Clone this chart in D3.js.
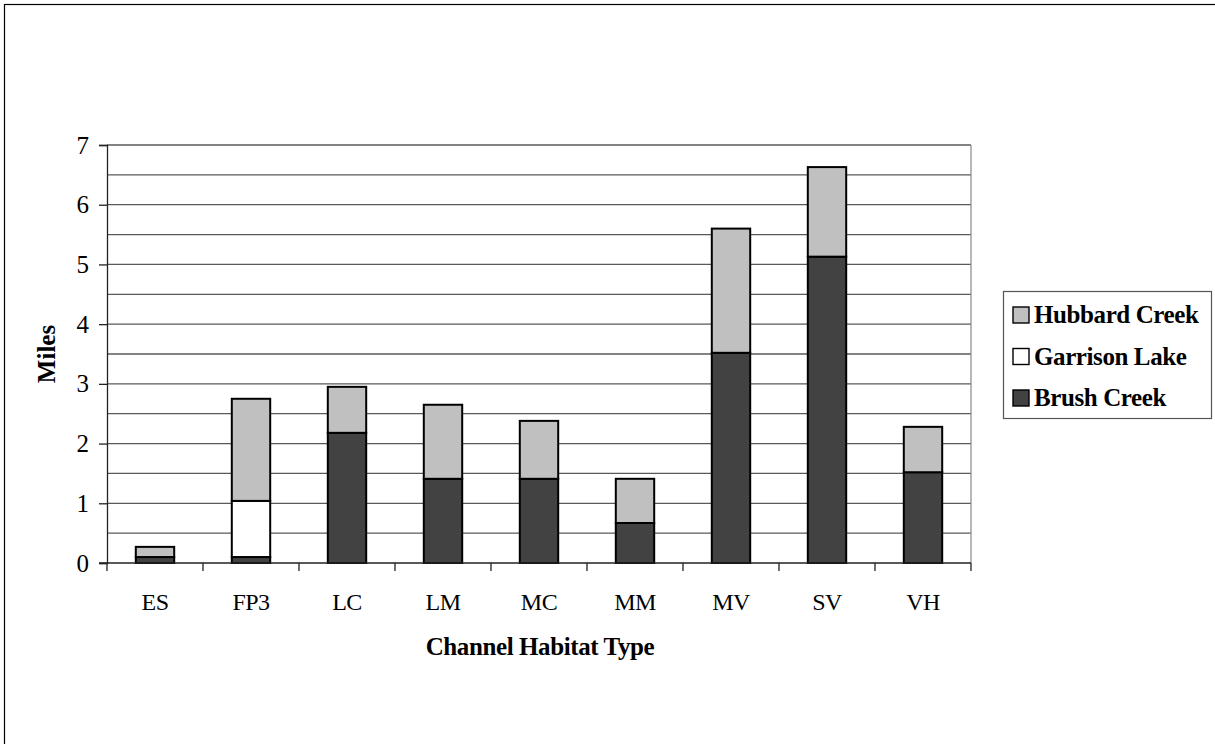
<!DOCTYPE html>
<html>
<head>
<meta charset="utf-8">
<script src="https://d3js.org/d3.v7.min.js"></script>
<style>
  body { margin: 0; background: #fff; }
  text { font-family: "Liberation Serif", "Times New Roman", serif; }
</style>
</head>
<body>
<script>
// categories and series (miles)
var habitats = ["ES", "FP3", "LC", "LM", "MC", "MM", "MV", "SV", "VH"];
var brushCreek = [0.1, 0.1, 2.18, 1.41, 1.41, 0.67, 3.52, 5.13, 1.52];
var garrisonLake = [0, 0.94, 0, 0, 0, 0, 0, 0, 0];
var hubbardCreek = [0.17, 1.71, 0.77, 1.24, 0.97, 0.74, 2.08, 1.5, 0.76];
var seriesNames = ["Brush Creek", "Garrison Lake", "Hubbard Creek"];
var yTicks = [0, 1, 2, 3, 4, 5, 6, 7];

var colors = {"Brush Creek": "#424242", "Garrison Lake": "#ffffff", "Hubbard Creek": "#c0c0c0"};

var W = 1215, H = 744;
var margin = {top: 145, left: 107, right: 244, bottom: 181};
var width = W - margin.left - margin.right,
    height = H - margin.top - margin.bottom;

var svg = d3.select("body").append("svg")
    .attr("width", W)
    .attr("height", H);

// outer frame (runs past right and bottom edges like the original)
svg.append("rect")
    .attr("x", 4.5).attr("y", 4.5)
    .attr("width", W + 10).attr("height", H + 10)
    .attr("fill", "none").attr("stroke", "#000").attr("stroke-width", 1.2);

var g = svg.append("g")
    .attr("transform", "translate(" + margin.left + "," + margin.top + ")");

var rows = habitats.map(function(h, i) {
    return {habitat: h, "Brush Creek": brushCreek[i], "Garrison Lake": garrisonLake[i], "Hubbard Creek": hubbardCreek[i]};
});
var stacked = d3.stack().keys(seriesNames)(rows);

var x = d3.scaleBand().domain(habitats).range([0, width]).paddingInner(0.6).paddingOuter(0.3);
var xTick = d3.scaleBand().domain(habitats).range([0, width]);
var y = d3.scaleLinear().domain([0, 7]).range([height, 0]);

// gridlines every half mile
g.append("g")
    .selectAll("line")
    .data(d3.range(0.5, 7.01, 0.5))
    .enter().append("line")
    .attr("x1", 0).attr("x2", width)
    .attr("y1", function(d) { return y(d); })
    .attr("y2", function(d) { return y(d); })
    .attr("stroke", "#5a5a5a").attr("stroke-width", 1.3);

// plot area right edge
g.append("line")
    .attr("x1", width).attr("x2", width).attr("y1", 0).attr("y2", height)
    .attr("stroke", "#888").attr("stroke-width", 1.2);

// bars
g.selectAll("g.series")
    .data(stacked)
    .enter().append("g")
    .attr("class", "series")
    .attr("fill", function(d) { return colors[d.key]; })
    .selectAll("rect")
    .data(function(d) { return d.filter(function(p) { return p[1] - p[0] > 0; }); })
    .enter().append("rect")
    .attr("x", function(d) { return x(d.data.habitat); })
    .attr("y", function(d) { return y(d[1]); })
    .attr("width", x.bandwidth())
    .attr("height", function(d) { return y(d[0]) - y(d[1]); })
    .attr("stroke", "#000").attr("stroke-width", 2);

// y axis
var yAxis = g.append("g")
    .call(d3.axisLeft(y).tickValues(yTicks).tickSize(8).tickPadding(10).tickFormat(d3.format("d")));
yAxis.select(".domain").attr("stroke", "#222").attr("stroke-width", 1.3);
yAxis.selectAll(".tick line").attr("stroke", "#222").attr("stroke-width", 1.3);
yAxis.selectAll("text")
    .attr("font-family", "Liberation Serif, serif")
    .attr("font-size", 25).attr("fill", "#000");

// x axis: ticks sit on the category boundaries
var xAxis = g.append("g")
    .attr("transform", "translate(0," + height + ")");
xAxis.append("line")
    .attr("x1", -8).attr("x2", width)
    .attr("stroke", "#222").attr("stroke-width", 1.3);
xAxis.selectAll("line.tk")
    .data(habitats.concat(["end"]))
    .enter().append("line")
    .attr("class", "tk")
    .attr("x1", function(d, i) { return i * xTick.step(); })
    .attr("x2", function(d, i) { return i * xTick.step(); })
    .attr("y1", 0).attr("y2", 8)
    .attr("stroke", "#222").attr("stroke-width", 1.3);
xAxis.selectAll("text")
    .data(habitats)
    .enter().append("text")
    .attr("x", function(d) { return xTick(d) + xTick.bandwidth() / 2; })
    .attr("y", 47)
    .attr("text-anchor", "middle")
    .attr("font-size", 24)
    .attr("letter-spacing", "-0.5")
    .text(function(d) { return d; });

// axis titles
g.append("text")
    .attr("x", width / 2 + 1)
    .attr("y", height + 92)
    .attr("text-anchor", "middle")
    .attr("font-size", 25).attr("font-weight", "bold")
    .attr("letter-spacing", "-0.4")
    .text("Channel Habitat Type");

g.append("text")
    .attr("transform", "translate(" + (-52) + "," + (height / 2) + ") rotate(-90)")
    .attr("text-anchor", "middle")
    .attr("font-size", 25).attr("font-weight", "bold")
    .text("Miles");

// legend
var legend = svg.append("g").attr("transform", "translate(1003,291)");
legend.append("rect")
    .attr("x", 0.5).attr("y", 0.5).attr("width", 208).attr("height", 127)
    .attr("fill", "#fff").attr("stroke", "#555").attr("stroke-width", 1.2);
var items = legend.selectAll("g.item")
    .data(seriesNames.slice().reverse())
    .enter().append("g")
    .attr("class", "item")
    .attr("transform", function(d, i) { return "translate(10," + (16 + i * 41.5) + ")"; });
items.append("rect")
    .attr("width", 16).attr("height", 16)
    .attr("fill", function(d) { return colors[d]; })
    .attr("stroke", "#000").attr("stroke-width", 1.4);
items.append("text")
    .attr("x", 21).attr("y", 16)
    .attr("font-size", 25).attr("font-weight", "bold")
    .attr("letter-spacing", "-0.4")
    .text(function(d) { return d; });
</script>
</body>
</html>
